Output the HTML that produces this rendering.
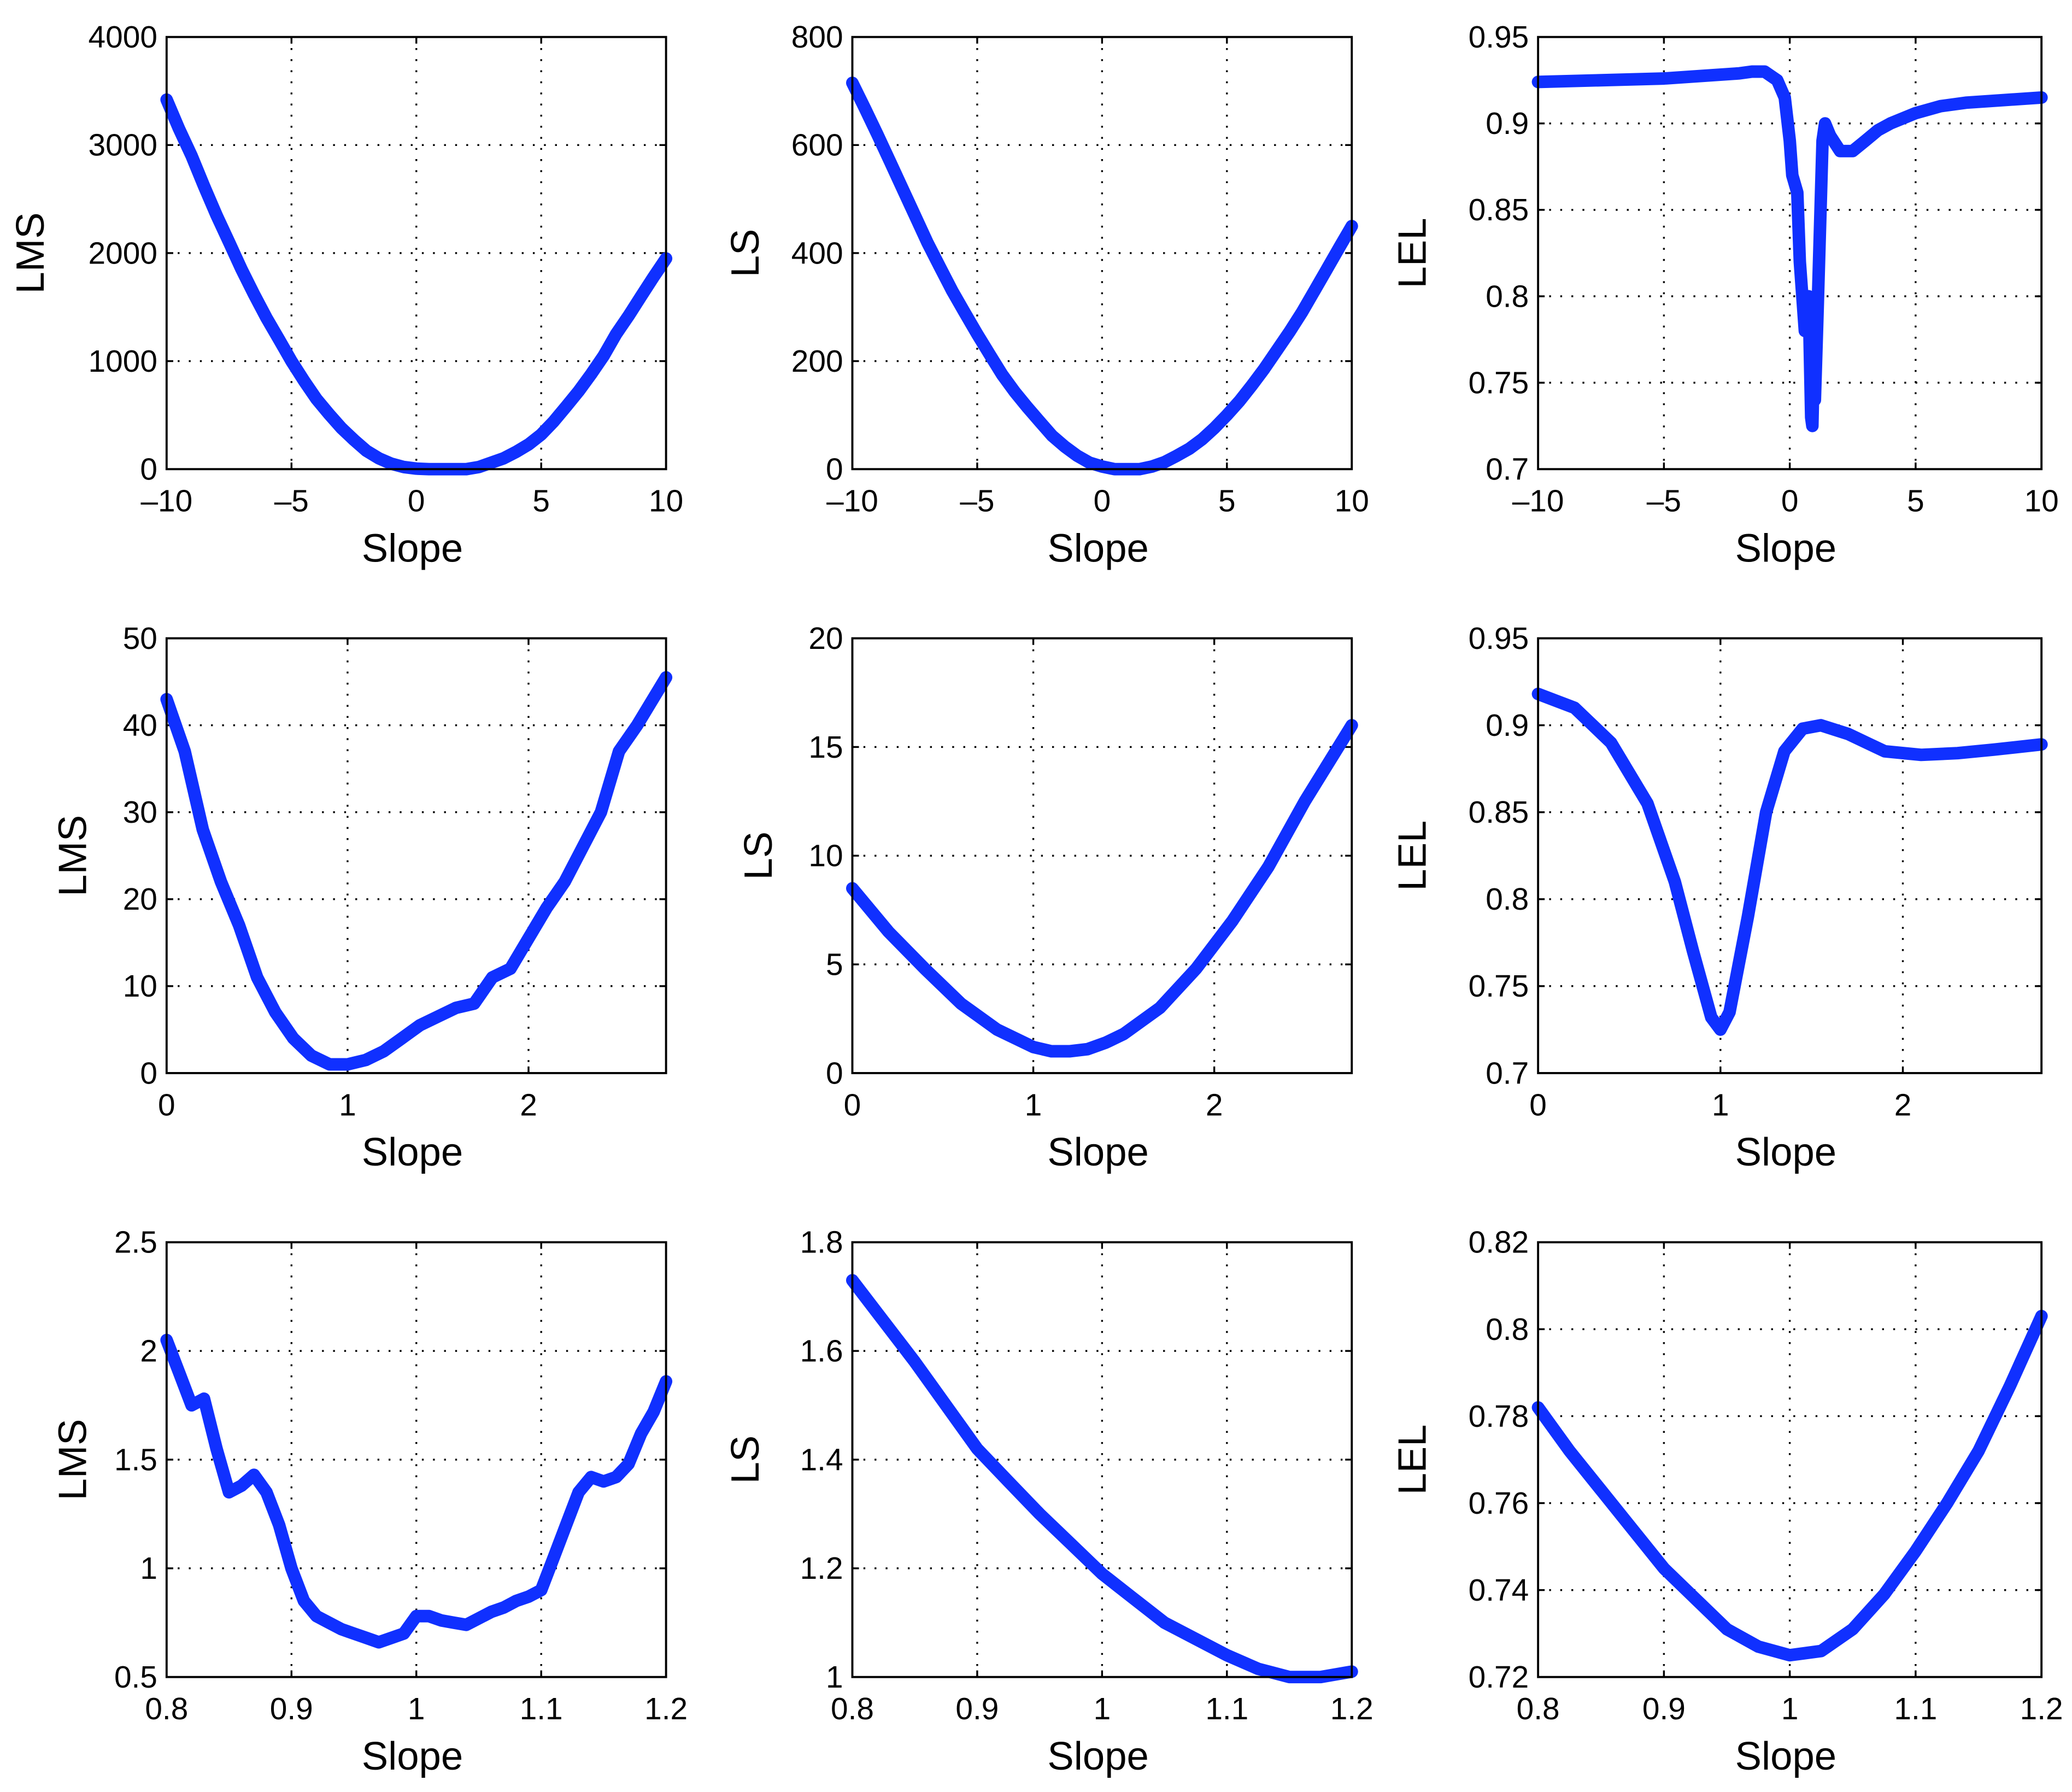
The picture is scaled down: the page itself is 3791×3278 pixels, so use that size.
<!DOCTYPE html>
<html><head><meta charset="utf-8"><style>
html,body{margin:0;padding:0;background:#fff}
svg{display:block}
text{font-family:"Liberation Sans",sans-serif;fill:#000}
</style></head><body>
<svg id="fig" width="3791" height="3278" viewBox="0 0 1568 1356" xmlns="http://www.w3.org/2000/svg"></svg>
<script>
// ---- data ----
const p1x=[-10,-9.5,-9,-8.5,-8,-7.5,-7,-6.5,-6,-5.5,-5,-4.5,-4,-3.5,-3,-2.5,-2,-1.5,-1,-0.5,0,0.5,1,2,2.5,3,3.5,4,4.5,5,5.5,6,6.5,7,7.5,8,8.5,9,9.5,10];
const p1y=[3420,3150,2900,2620,2350,2100,1850,1620,1400,1200,1000,820,650,510,380,270,170,100,50,20,5,0,0,0,20,60,100,160,230,320,440,580,720,880,1050,1250,1420,1600,1780,1950];
const p2x=[-10,-9.5,-9,-8.5,-8,-7.5,-7,-6.5,-6,-5.5,-5,-4.5,-4,-3.5,-3,-2.5,-2,-1.5,-1,-0.5,0,0.5,1,1.5,2,2.5,3,3.5,4,4.5,5,5.5,6,6.5,7,7.5,8,8.5,9,9.5,10];
const p2y=[715,668,620,570,520,470,420,375,330,290,250,212,175,143,115,88,62,42,25,12,5,0,0,0,5,13,25,38,55,76,100,126,155,186,220,254,290,330,370,410,450];
const p3x=[-10,-5,-2,-1.5,-1,-0.5,-0.2,0,0.1,0.3,0.4,0.6,0.75,0.85,0.9,0.95,1.0,1.1,1.2,1.3,1.4,1.6,2,2.5,3,3.5,4,5,6,7,8,9,10];
const p3y=[0.924,0.926,0.929,0.930,0.930,0.925,0.915,0.89,0.87,0.86,0.82,0.78,0.80,0.73,0.725,0.76,0.74,0.79,0.84,0.89,0.90,0.893,0.884,0.884,0.89,0.896,0.90,0.906,0.91,0.912,0.913,0.914,0.915];
const p4x=[0,0.1,0.2,0.3,0.4,0.5,0.6,0.7,0.8,0.9,1.0,1.1,1.2,1.3,1.4,1.5,1.6,1.7,1.8,1.9,2.0,2.1,2.2,2.3,2.4,2.5,2.6,2.76];
const p4y=[43,37,28,22,17,11,7,4,2,1,1,1.5,2.5,4,5.5,6.5,7.5,8,11,12,15.5,19,22,26,30,37,40,45.5];
const p5x=[0,0.2,0.4,0.6,0.8,1.0,1.1,1.2,1.3,1.4,1.5,1.7,1.9,2.1,2.3,2.5,2.76];
const p5y=[8.5,6.5,4.8,3.2,2.0,1.2,1.0,1.0,1.1,1.4,1.8,3.0,4.8,7.0,9.5,12.5,16];
const p6x=[0,0.2,0.4,0.6,0.75,0.85,0.95,1.0,1.05,1.15,1.25,1.35,1.45,1.55,1.7,1.9,2.1,2.3,2.5,2.76];
const p6y=[0.918,0.91,0.89,0.855,0.81,0.77,0.732,0.725,0.735,0.79,0.85,0.885,0.898,0.9,0.895,0.885,0.883,0.884,0.886,0.889];
const p7x=[0.8,0.81,0.82,0.83,0.84,0.85,0.86,0.87,0.88,0.89,0.90,0.91,0.92,0.93,0.94,0.95,0.96,0.97,0.98,0.99,1.0,1.01,1.02,1.03,1.04,1.05,1.06,1.07,1.08,1.09,1.10,1.11,1.12,1.13,1.14,1.15,1.16,1.17,1.18,1.19,1.2];
const p7y=[2.05,1.9,1.75,1.78,1.55,1.35,1.38,1.43,1.35,1.2,1.0,0.85,0.78,0.75,0.72,0.70,0.68,0.66,0.68,0.7,0.78,0.78,0.76,0.75,0.74,0.77,0.8,0.82,0.85,0.87,0.9,1.05,1.2,1.35,1.42,1.4,1.42,1.48,1.62,1.72,1.86];
const p8x=[0.8,0.825,0.85,0.875,0.9,0.925,0.95,0.975,1.0,1.025,1.05,1.075,1.1,1.125,1.15,1.175,1.2];
const p8y=[1.73,1.655,1.58,1.5,1.42,1.36,1.3,1.245,1.19,1.145,1.1,1.07,1.04,1.015,1.0,1.0,1.01];
const p9x=[0.8,0.825,0.85,0.875,0.9,0.925,0.95,0.975,1.0,1.025,1.05,1.075,1.1,1.125,1.15,1.175,1.2];
const p9y=[0.782,0.772,0.763,0.754,0.745,0.738,0.731,0.727,0.725,0.726,0.731,0.739,0.749,0.76,0.772,0.787,0.803];
const xt1=["–10","–5","0","5","10"], xv1=[-10,-5,0,5,10];
const xt2=["0","1","2"], xv2=[0,1,2];
const xt3=["0.8","0.9","1","1.1","1.2"], xv3=[0.8,0.9,1,1.1,1.2];
const yt1=["0","1000","2000","3000","4000"], yt2=["0","200","400","600","800"], yt3=["0.7","0.75","0.8","0.85","0.9","0.95"];
const yt4=["0","10","20","30","40","50"], yt5=["0","5","10","15","20"], yt6=yt3;
const yt7=["0.5","1","1.5","2","2.5"], yt8=["1","1.2","1.4","1.6","1.8"], yt9=["0.72","0.74","0.76","0.78","0.8","0.82"];

const NS="http://www.w3.org/2000/svg";
const svg=document.getElementById('fig');
function mk(t,a,parent){const e=document.createElementNS(NS,t);for(const k in a)e.setAttribute(k,a[k]);(parent||svg).appendChild(e);return e;}
const cols=[[126,504],[645,1023],[1164,1545]];
const rows=[[28,355],[483,812],[940,1269]];
const panels=[
 {r:0,c:0,xs:p1x,ys:p1y,xd:[-10,10],yd:[0,4000],xv:xv1,xt:xt1,yt:yt1,lab:"LMS",lx:22},
 {r:0,c:1,xs:p2x,ys:p2y,xd:[-10,10],yd:[0,800],xv:xv1,xt:xt1,yt:yt2,lab:"LS",lx:563},
 {r:0,c:2,xs:p3x,ys:p3y,xd:[-10,10],yd:[0.7,0.95],xv:xv1,xt:xt1,yt:yt3,lab:"LEL",lx:1068},
 {r:1,c:0,xs:p4x,ys:p4y,xd:[0,2.76],yd:[0,50],xv:xv2,xt:xt2,yt:yt4,lab:"LMS",lx:54},
 {r:1,c:1,xs:p5x,ys:p5y,xd:[0,2.76],yd:[0,20],xv:xv2,xt:xt2,yt:yt5,lab:"LS",lx:573},
 {r:1,c:2,xs:p6x,ys:p6y,xd:[0,2.76],yd:[0.7,0.95],xv:xv2,xt:xt2,yt:yt6,lab:"LEL",lx:1068},
 {r:2,c:0,xs:p7x,ys:p7y,xd:[0.8,1.2],yd:[0.5,2.5],xv:xv3,xt:xt3,yt:yt7,lab:"LMS",lx:54},
 {r:2,c:1,xs:p8x,ys:p8y,xd:[0.8,1.2],yd:[1,1.8],xv:xv3,xt:xt3,yt:yt8,lab:"LS",lx:563},
 {r:2,c:2,xs:p9x,ys:p9y,xd:[0.8,1.2],yd:[0.72,0.82],xv:xv3,xt:xt3,yt:yt9,lab:"LEL",lx:1068}
];
panels.forEach((p,i)=>{
 const [x0,x1]=cols[p.c],[y0,y1]=rows[p.r];
 const g=mk('g',{});
 
 
 const X=v=>x0+(v-p.xd[0])/(p.xd[1]-p.xd[0])*(x1-x0);
 const Y=v=>y1-(v-p.yd[0])/(p.yd[1]-p.yd[0])*(y1-y0);
 const n=p.yt.length;
 p.yt.forEach((t,k)=>{
  const v=p.yd[0]+k*(p.yd[1]-p.yd[0])/(n-1), y=Y(v);
  if(k>0&&k<n-1){const l=mk('line',{x1:x0,x2:x1,y1:y,y2:y,stroke:'#000','stroke-width':1.4,'stroke-dasharray':'1.4 7'},g);
   mk('line',{x1:x0,x2:x0+5,y1:y,y2:y,stroke:'#000','stroke-width':1.4},g);mk('line',{x1:x1-5,x2:x1,y1:y,y2:y,stroke:'#000','stroke-width':1.4},g);}
  const tx=mk('text',{x:x0-7,y:y+8,'font-size':23.5,'text-anchor':'end'},g);tx.textContent=t;
  
 });
 p.xv.forEach((v,k)=>{
  const x=X(v);
  if(v>p.xd[0]&&v<p.xd[1]){const l=mk('line',{x1:x,x2:x,y1:y0,y2:y1,stroke:'#000','stroke-width':1.4,'stroke-dasharray':'1.4 7'},g);
   mk('line',{x1:x,x2:x,y1:y1,y2:y1-5,stroke:'#000','stroke-width':1.4},g);mk('line',{x1:x,x2:x,y1:y0,y2:y0+5,stroke:'#000','stroke-width':1.4},g);}
  const tx=mk('text',{x:x,y:y1+32,'font-size':23.5,'text-anchor':'middle'},g);tx.textContent=p.xt[k];
  
 });
 const pts=p.xs.map((v,k)=>X(v).toFixed(1)+','+Y(p.ys[k]).toFixed(1)).join(' ');
 const pl=mk('polyline',{points:pts,fill:'none',stroke:'#1030ff','stroke-width':9.5,'stroke-linejoin':'round','stroke-linecap':'round'},g);
 
 const fr=mk('rect',{x:x0,y:y0,width:x1-x0,height:y1-y0,fill:'none',stroke:'#000','stroke-width':1.6},g);
 
 const xl=mk('text',{x:(x0+x1)/2-3,y:y1+70,'font-size':30,'text-anchor':'middle'},g);xl.textContent='Slope';
 
 const cy=(y0+y1)/2;
 const yl=mk('text',{x:p.lx+11,y:cy,'font-size':30,'text-anchor':'middle',transform:'rotate(-90 '+(p.lx+11)+' '+cy+')'},g);yl.textContent=p.lab;
 
});
</script>
</body></html>
